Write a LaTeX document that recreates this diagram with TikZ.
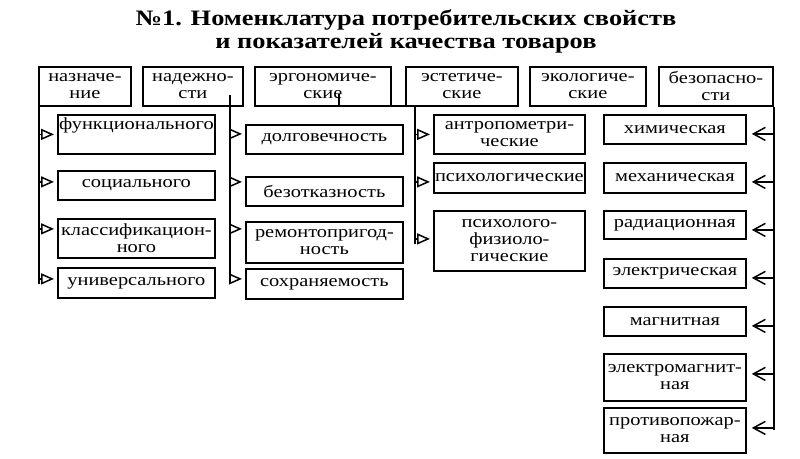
\documentclass[tikz,border=0pt]{standalone}
\usepackage{fontspec}
\setmainfont{Liberation Serif}[FakeStretch=1.2]
\usetikzlibrary{arrows.meta,calc}

\begin{document}
\begin{tikzpicture}[x=1pt, y=-1pt, every node/.style={align=center},
box/.style={draw, line width=1.8pt, inner sep=1pt, anchor=north west, font=\fontsize{17}{17}\selectfont},
sz/.style 2 args={minimum width=#1, minimum height=#2},
trunk/.style={line width=1.8pt},
arr/.style={-{Triangle[open,length=13pt,width=11pt]}, line width=1.5pt, shorten >=3pt},
barb/.style={-{Straight Barb[length=12pt,width=13pt]}, line width=1.5pt, shorten >=5pt}]
\useasboundingbox (0,0) rectangle (800,458);
% title
\node[font=\bfseries\fontsize{22}{23}\selectfont] (title) at (406,31) {№1. Номенклатура потребительских свойств\\и показателей качества товаров};
% top row
\node[box, sz={92pt}{39pt}] (nazn) at (38,66) {назначе-\\ние};
\node[box, sz={100pt}{39pt}] (nadezh) at (142,66) {надежно-\\сти};
\node[box, sz={136pt}{39pt}] (ergon) at (254,66) {эргономиче-\\ские};
\node[box, sz={112pt}{39pt}] (estet) at (405,66) {эстетиче-\\ские};
\node[box, sz={116pt}{39pt}] (ekol) at (529,66) {экологиче-\\ские};
\node[box, sz={114pt}{39pt}] (bezop) at (658,66) {безопасно-\\сти};
% purpose
\node[box, sz={157pt}{39pt}] (f1) at (57,114) {функционального\\\strut};
\node[box, sz={157pt}{29pt}] (f2) at (57,170) {социального};
\node[box, sz={157pt}{39pt}] (f3) at (57,218) {классификацион-\\ного};
\node[box, sz={157pt}{30pt}] (f4) at (57,267) {универсального};
% reliability
\node[box, sz={157pt}{29pt}] (n1) at (245,124) {долговечность};
\node[box, sz={157pt}{29pt}] (n2) at (245,176) {безотказность};
\node[box, sz={157pt}{41pt}] (n3) at (245,221) {ремонтопригод-\\ность};
\node[box, sz={157pt}{30pt}] (n4) at (245,268) {сохраняемость};
% ergonomic
\node[box, sz={151pt}{39pt}] (e1) at (433,114) {антропометри-\\ческие};
\node[box, sz={151pt}{30pt}] (e2) at (433,162) {психологические};
\node[box, sz={151pt}{60pt}] (e3) at (433,210) {психолого-\\физиоло-\\гические};
% safety
\node[box, sz={142pt}{29pt}] (s1) at (603,114) {химическая};
\node[box, sz={142pt}{30pt}] (s2) at (603,162) {механическая};
\node[box, sz={142pt}{28pt}] (s3) at (603,210) {радиационная};
\node[box, sz={142pt}{29pt}] (s4) at (603,258) {электрическая};
\node[box, sz={142pt}{29pt}] (s5) at (603,306) {магнитная};
\node[box, sz={142pt}{47pt}] (s6) at (603,353) {электромагнит-\\ная};
\node[box, sz={142pt}{45pt}] (s7) at (603,407) {противопожар-\\ная};
% trunks
\coordinate (c1) at ($(nazn.south west)+(1pt,10pt)$);
\coordinate (c2) at ($(nadezh.south east)+(-14pt,12pt)$);
\coordinate (c3) at ($(ergon.south west)+(85pt,13pt)$);
\coordinate (c3b) at ($(ergon.south west)+(161pt,1pt)$);
\draw[trunk] (c1) -- ($(c1 |- f4.west)+(0,-1pt)$);
\draw[trunk] (c2) -- (c2 |- n4.west);
\draw[trunk] (c3) |- (c3b) -- ($(c3b |- e3.west)+(0,-3pt)$);
\draw[trunk] (bezop.south east) -- (bezop.south east |- s7.west);
% arrows
\draw[arr] (f1.west -| c1) -- (f1.west);
\draw[arr] ([yshift=3.5pt]f2.west -| c1) -- ([yshift=3.5pt]f2.west);
\draw[arr] ([yshift=9.5pt]f3.west -| c1) -- ([yshift=9.5pt]f3.west);
\draw[arr] ([yshift=4pt]f4.west -| c1) -- ([yshift=4pt]f4.west);
\draw[arr] ([yshift=5.5pt]n1.west -| c2) -- ([yshift=5.5pt]n1.west);
\draw[arr] ([yshift=9.5pt]n2.west -| c2) -- ([yshift=9.5pt]n2.west);
\draw[arr] ([yshift=13.5pt]n3.west -| c2) -- ([yshift=13.5pt]n3.west);
\draw[arr] ([yshift=5pt]n4.west -| c2) -- ([yshift=5pt]n4.west);
\draw[arr] (e1.west -| c3b) -- (e1.west);
\draw[arr] ([yshift=-4pt]e2.west -| c3b) -- ([yshift=-4pt]e2.west);
\draw[arr] ([yshift=2pt]e3.west -| c3b) -- ([yshift=2pt]e3.west);
\draw[barb] ([yshift=-4.5pt]s1.east -| bezop.east) -- ([yshift=-4.5pt]s1.east);
\draw[barb] ([yshift=-4pt]s2.east -| bezop.east) -- ([yshift=-4pt]s2.east);
\draw[barb] ([yshift=-5pt]s3.east -| bezop.east) -- ([yshift=-5pt]s3.east);
\draw[barb] ([yshift=-4.5pt]s4.east -| bezop.east) -- ([yshift=-4.5pt]s4.east);
\draw[barb] ([yshift=-4.5pt]s5.east -| bezop.east) -- ([yshift=-4.5pt]s5.east);
\draw[barb] ([yshift=3.5pt]s6.east -| bezop.east) -- ([yshift=3.5pt]s6.east);
\draw[barb] ([yshift=2.5pt]s7.east -| bezop.east) -- ([yshift=2.5pt]s7.east);
\end{tikzpicture}
\end{document}
